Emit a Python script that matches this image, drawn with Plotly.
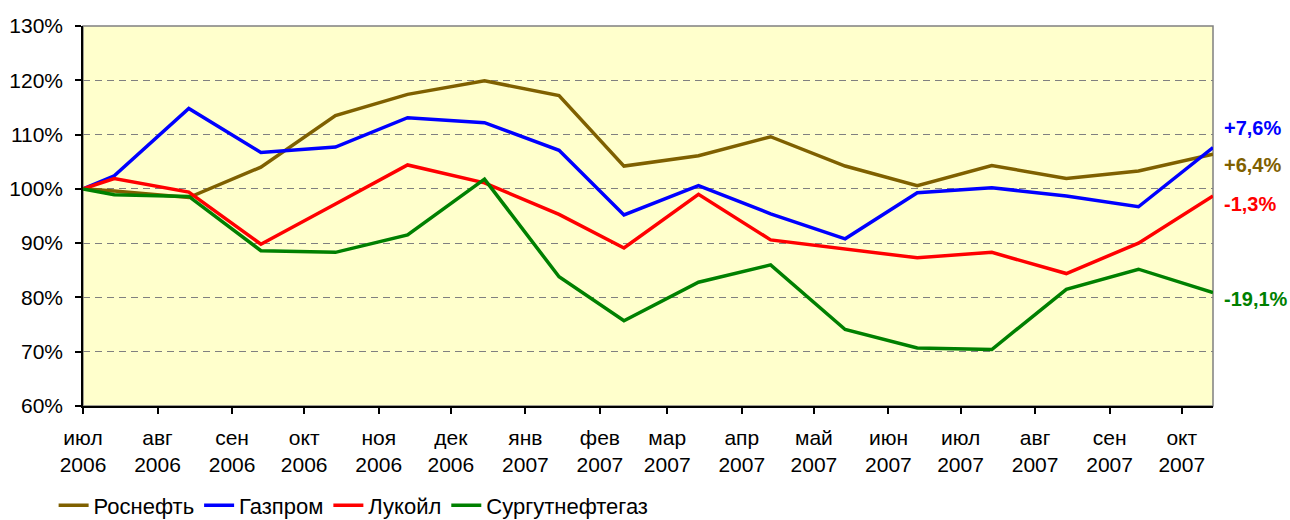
import plotly.graph_objects as go

dates = ["2006-07-01", "2006-07-14", "2006-08-14", "2006-09-13", "2006-10-14",
         "2006-11-13", "2006-12-15", "2007-01-15", "2007-02-11", "2007-03-14",
         "2007-04-13", "2007-05-14", "2007-06-13", "2007-07-14", "2007-08-14",
         "2007-09-13", "2007-10-14"]

rosneft = [100, 99.6, 98.4, 104.0, 113.5, 117.4, 119.9, 117.2, 104.2, 106.1,
           109.6, 104.2, 100.6, 104.3, 101.9, 103.3, 106.4]
gazprom = [100, 102.4, 114.8, 106.7, 107.7, 113.1, 112.2, 107.1, 95.2, 100.6,
           95.4, 90.8, 99.3, 100.2, 98.7, 96.7, 107.6]
lukoil = [100, 101.9, 99.4, 89.8, 97.2, 104.4, 101.1, 95.3, 89.1, 99.0,
          90.6, 88.9, 87.3, 88.3, 84.4, 90.0, 98.7]
surgut = [100, 98.9, 98.6, 88.6, 88.3, 91.5, 101.8, 83.8, 75.7, 82.8,
          86.0, 74.1, 70.7, 70.4, 81.5, 85.2, 80.9]

series_names = ["Роснефть", "Газпром", "Лукойл", "Сургутнефтегаз"]
series_colors = ["#7F6000", "#0000FF", "#FF0000", "#008000"]
end_labels = ["+6,4%", "+7,6%", "-1,3%", "-19,1%"]

tick_dates = ["2006-07-01", "2006-08-01", "2006-09-01", "2006-10-01", "2006-11-01",
              "2006-12-01", "2007-01-01", "2007-02-01", "2007-03-01", "2007-04-01",
              "2007-05-01", "2007-06-01", "2007-07-01", "2007-08-01", "2007-09-01",
              "2007-10-01"]
tick_text = ["июл<br>2006", "авг<br>2006", "сен<br>2006", "окт<br>2006", "ноя<br>2006",
             "дек<br>2006", "янв<br>2007", "фев<br>2007", "мар<br>2007", "апр<br>2007",
             "май<br>2007", "июн<br>2007", "июл<br>2007", "авг<br>2007", "сен<br>2007",
             "окт<br>2007"]
y_ticks = [60, 70, 80, 90, 100, 110, 120, 130]
y_tick_text = ["60%", "70%", "80%", "90%", "100%", "110%", "120%", "130%"]

FONT = "Liberation Sans, Arial, sans-serif"

fig = go.Figure()
for name, vals, col in zip(series_names, [rosneft, gazprom, lukoil, surgut], series_colors):
    fig.add_trace(go.Scatter(x=dates, y=vals, mode="lines", name=name,
                             line=dict(color=col, width=3.5)))

# end labels placed next to the right edge
label_pos = {"+7,6%": 0.732, "+6,4%": 0.634, "-1,3%": 0.532, "-19,1%": 0.282}
for txt, col in zip(end_labels, series_colors):
    fig.add_annotation(x=1, xref="paper", y=label_pos[txt], yref="paper",
                       text="<b>" + txt + "</b>", showarrow=False,
                       xanchor="left", yanchor="middle", xshift=9,
                       font=dict(family=FONT, size=20, color=col))

fig.add_shape(type="rect", xref="paper", yref="paper", x0=0, x1=1, y0=0, y1=1,
              line=dict(color="#808080", width=1.5), layer="below")

fig.update_layout(
    width=1290, height=520,
    margin=dict(l=83, r=77, t=26, b=114, autoexpand=False),
    paper_bgcolor="white",
    plot_bgcolor="#FFFFCC",
    font=dict(family=FONT, size=21, color="black"),
    showlegend=True,
    legend=dict(orientation="h", x=-0.026, xanchor="left", y=-0.262, yanchor="middle",
                font=dict(family=FONT, size=22), itemwidth=30,
                bgcolor="rgba(0,0,0,0)", tracegroupgap=0),
    xaxis=dict(type="date", range=["2006-07-01", "2007-10-14"],
               tickvals=tick_dates, ticktext=tick_text,
               showgrid=False, zeroline=False,
               showline=True, linecolor="black", linewidth=1.5,
               ticks="outside", ticklen=6, tickwidth=1.5, tickcolor="black",
               ticklabelstandoff=6,
               tickfont=dict(family=FONT, size=21, color="black")),
    yaxis=dict(range=[60, 130], tickvals=y_ticks, ticktext=y_tick_text,
               showgrid=True, gridcolor="#808080", gridwidth=1, griddash="7px,5px",
               zeroline=False,
               showline=True, linecolor="black", linewidth=1.5,
               ticks="outside", ticklen=6, tickwidth=1.5, tickcolor="black",
               ticklabelstandoff=8,
               tickfont=dict(family=FONT, size=21, color="black")),
)

fig.write_html("out.html", config={"displayModeBar": False},
               post_script="document.body.style.margin='0';document.body.style.overflow='hidden';")
